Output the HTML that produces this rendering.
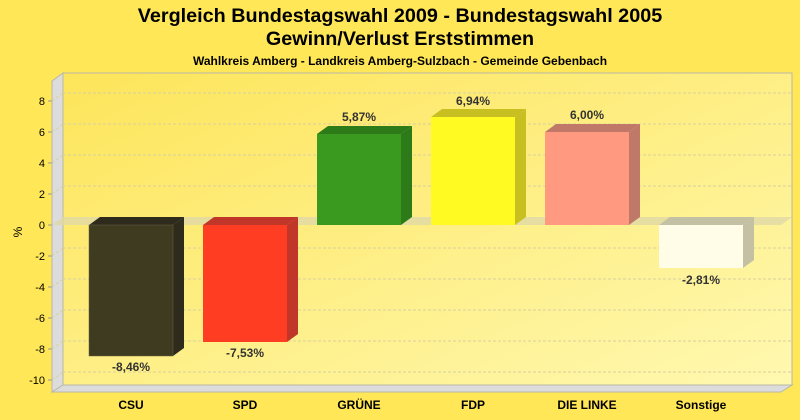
<!DOCTYPE html>
<html><head><meta charset="utf-8"><style>body{margin:0;background:#FFE757}svg{display:block}text{font-family:"Liberation Sans",sans-serif}</style></head><body>
<svg width="800" height="420" viewBox="0 0 800 420">
<defs>
<linearGradient id="pg" x1="0" y1="0" x2="1" y2="1"><stop offset="0" stop-color="#FDE55A"/><stop offset="1" stop-color="#FFF8B0"/></linearGradient>
</defs>
<rect width="800" height="420" fill="#FFE757"/>
<text x="400" y="22" text-anchor="middle" font-size="19.8" font-weight="bold">Vergleich Bundestagswahl 2009 - Bundestagswahl 2005</text>
<text x="400" y="45" text-anchor="middle" font-size="19.8" font-weight="bold">Gewinn/Verlust Erststimmen</text>
<text x="400" y="65" text-anchor="middle" font-size="12" font-weight="bold">Wahlkreis Amberg - Landkreis Amberg-Sulzbach - Gemeinde Gebenbach</text>
<rect x="63" y="73" width="729" height="312" fill="url(#pg)" stroke="#B8B8A8"/>
<polygon points="52,81 63,73 63,385 52,392" fill="#DCDCDC" stroke="#B8B8A8"/>
<polygon points="52,392 63,385 792,385 781,392" fill="#DCDCDC" stroke="#B8B8A8"/>
<g stroke="#D8D0A0" stroke-dasharray="3,2">
<line x1="63" y1="93" x2="792" y2="93"/><line x1="63" y1="124" x2="792" y2="124"/><line x1="63" y1="155" x2="792" y2="155"/><line x1="63" y1="186" x2="792" y2="186"/>
<line x1="63" y1="248" x2="792" y2="248"/><line x1="63" y1="279" x2="792" y2="279"/><line x1="63" y1="310" x2="792" y2="310"/><line x1="63" y1="341" x2="792" y2="341"/><line x1="63" y1="372" x2="792" y2="372"/>
<line x1="52" y1="101" x2="63" y2="93"/><line x1="52" y1="132" x2="63" y2="124"/><line x1="52" y1="163" x2="63" y2="155"/><line x1="52" y1="194" x2="63" y2="186"/>
<line x1="52" y1="256" x2="63" y2="248"/><line x1="52" y1="287" x2="63" y2="279"/><line x1="52" y1="318" x2="63" y2="310"/><line x1="52" y1="349" x2="63" y2="341"/><line x1="52" y1="380" x2="63" y2="372"/>
</g>
<polygon points="52,225 63,217 792,217 781,225" fill="#E0D8A8" opacity="0.8"/>
<g font-size="11" text-anchor="end">
<text x="45" y="105">8</text><text x="45" y="136">6</text><text x="45" y="167">4</text><text x="45" y="198">2</text><text x="45" y="229">0</text>
<text x="45" y="260">-2</text><text x="45" y="291">-4</text><text x="45" y="322">-6</text><text x="45" y="353">-8</text><text x="45" y="384">-10</text>
</g>
<g stroke="#999"><line x1="48" y1="101" x2="52" y2="101"/><line x1="48" y1="132" x2="52" y2="132"/><line x1="48" y1="163" x2="52" y2="163"/><line x1="48" y1="194" x2="52" y2="194"/><line x1="48" y1="225" x2="52" y2="225"/><line x1="48" y1="256" x2="52" y2="256"/><line x1="48" y1="287" x2="52" y2="287"/><line x1="48" y1="318" x2="52" y2="318"/><line x1="48" y1="349" x2="52" y2="349"/><line x1="48" y1="380" x2="52" y2="380"/></g>
<text transform="translate(22,232) rotate(-90)" font-size="12" text-anchor="middle">%</text>
<g>
<polygon points="89,225 100,217 184,217 173,225" fill="#2E2A1C"/><polygon points="173,225 184,217 184,348 173,356" fill="#2E2A1C"/><rect x="89" y="225" width="84" height="131" fill="#3F3B20" stroke="#6A6440" stroke-width="0.5"/>
<polygon points="203,225 214,217 298,217 287,225" fill="#C03628"/><polygon points="287,225 298,217 298,334 287,342" fill="#C03628"/><rect x="203" y="225" width="84" height="117" fill="#FF3D22"/>
<polygon points="317,134 328,126 412,126 401,134" fill="#2C7A18"/><polygon points="401,134 412,126 412,217 401,225" fill="#2C7A18"/><rect x="317" y="134" width="84" height="91" fill="#3A9A20"/>
<polygon points="431,117 442,109 526,109 515,117" fill="#C8C020"/><polygon points="515,117 526,109 526,217 515,225" fill="#C8C020"/><rect x="431" y="117" width="84" height="108" fill="#FFFA22"/>
<polygon points="545,132 556,124 640,124 629,132" fill="#C07868"/><polygon points="629,132 640,124 640,217 629,225" fill="#C07868"/><rect x="545" y="132" width="84" height="93" fill="#FF9A80"/>
<polygon points="659,225 670,217 754,217 743,225" fill="#C4C0A4"/><polygon points="743,225 754,217 754,260 743,268" fill="#C4C0A4"/><rect x="659" y="225" width="84" height="43" fill="#FFFCE8"/>
</g>
<g font-size="12" font-weight="bold" fill="#333" text-anchor="middle">
<text x="131" y="371">-8,46%</text><text x="245" y="357">-7,53%</text><text x="359" y="121">5,87%</text><text x="473" y="105">6,94%</text><text x="587" y="119">6,00%</text><text x="701" y="284">-2,81%</text>
</g>
<g font-size="12" font-weight="bold" text-anchor="middle">
<text x="131" y="409">CSU</text><text x="245" y="409">SPD</text><text x="359" y="409">GRÜNE</text><text x="473" y="409">FDP</text><text x="587" y="409">DIE LINKE</text><text x="701" y="409">Sonstige</text>
</g>
</svg>
</body></html>
